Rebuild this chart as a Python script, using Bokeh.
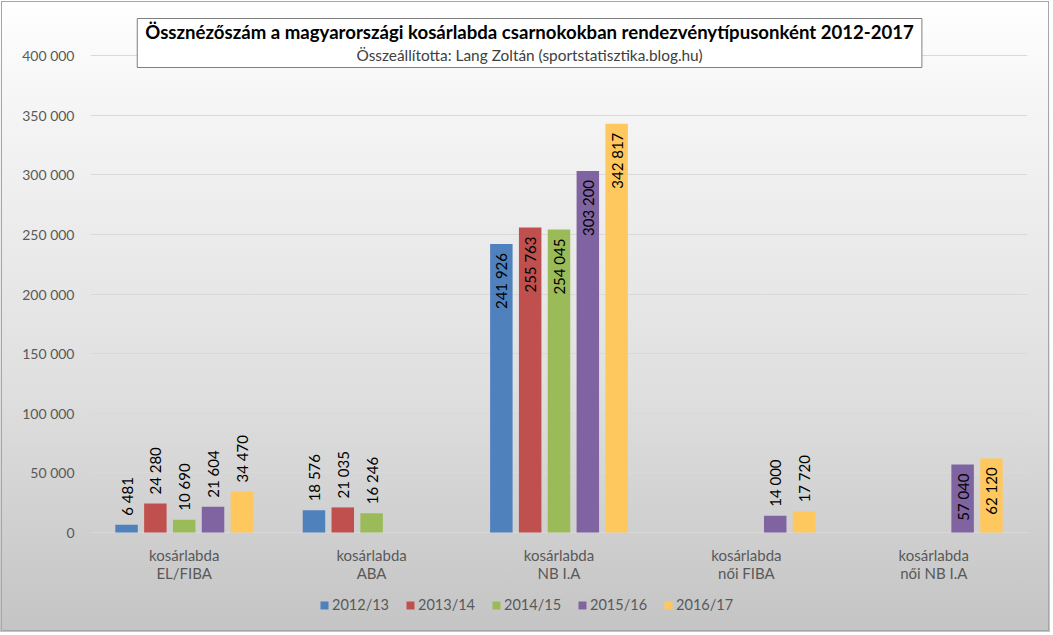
import math
from bokeh.plotting import figure
from bokeh.models import ColumnDataSource, FactorRange, Range1d, FixedTicker, Legend, LegendItem, Label
from bokeh.transform import dodge
from bokeh.core.properties import value
from bokeh.embed import file_html
from bokeh.resources import INLINE

# ---------------- data ----------------
categories = ["kosárlabda\nEL/FIBA", "kosárlabda\nABA", "kosárlabda\nNB I.A",
              "kosárlabda\nnői FIBA", "kosárlabda\nnői NB I.A"]
seasons = ["2012/13", "2013/14", "2014/15", "2015/16", "2016/17"]
values_2012_13 = [6481, 18576, 241926, None, None]
values_2013_14 = [24280, 21035, 255763, None, None]
values_2014_15 = [10690, 16246, 254045, None, None]
values_2015_16 = [21604, None, 303200, 14000, 57040]
values_2016_17 = [34470, None, 342817, 17720, 62120]
inside_label_min = 50000  # labels of bars higher than this sit inside the bar
y_ticks = [0, 50000, 100000, 150000, 200000, 250000, 300000, 350000, 400000]
y_tick_labels = ["0", "50 000", "100 000", "150 000", "200 000", "250 000",
                 "300 000", "350 000", "400 000"]
title_text = "Össznézőszám a magyarországi kosárlabda csarnokokban rendezvénytípusonként 2012-2017"
subtitle_text = "Összeállította: Lang Zoltán (sportstatisztika.blog.hu)"

series_values = [values_2012_13, values_2013_14, values_2014_15, values_2015_16, values_2016_17]
colors = ["#4f81bd", "#c0504d", "#9bbb59", "#8064a2", "#ffc85f"]

# ---------------- layout ----------------
FONT = "Lato"
W, H = 1050, 632
LEFT, RIGHT, TOP, BOTTOM = 90, 23, 10, 2
ZERO_PX = 532      # pixel row of the zero line
TOP_TICK_PX = 55   # pixel row of the highest tick
scale = y_ticks[-1] / (ZERO_PX - TOP_TICK_PX)
y_end = (ZERO_PX - TOP) * scale
y_start = -((H - BOTTOM) - ZERO_PX) * scale


def px_to_y(px):
    return (ZERO_PX - px) * scale


p = figure(x_range=FactorRange(*categories, range_padding=0, factor_padding=0),
           y_range=Range1d(y_start, y_end), width=W, height=H,
           output_backend="svg", toolbar_location=None,
           min_border_left=LEFT, min_border_right=RIGHT,
           min_border_top=TOP, min_border_bottom=BOTTOM)
p.title.visible = False
p.outline_line_color = None
p.background_fill_alpha = 0
p.border_fill_alpha = 0
p.styles = {"background-image": "linear-gradient(to bottom, #ffffff 0%, #f6f6f6 15%, #e0e0e0 60%, #c4c4c4 100%)",
            "outline": "1px solid #a6a6a6", "outline-offset": "-2px"}

pitch = 0.1538
bar_w = 0.12
renderers = []
for i, (season, vals, col) in enumerate(zip(seasons, series_values, colors)):
    off = (i - 2) * pitch
    cats = [c for c, v in zip(categories, vals) if v is not None]
    tops = [v for v in vals if v is not None]
    labels = [f"{v:,}".replace(",", " ") for v in tops]
    src = ColumnDataSource(dict(cat=cats, top=tops, label=labels))
    r = p.vbar(x=dodge("cat", off, range=p.x_range), top="top", width=bar_w,
               source=src, fill_color=col, line_color=None)
    renderers.append(r)
    out_src = ColumnDataSource(dict(
        cat=[c for c, t in zip(cats, tops) if t <= inside_label_min],
        top=[t for t in tops if t <= inside_label_min],
        label=[l for l, t in zip(labels, tops) if t <= inside_label_min]))
    in_src = ColumnDataSource(dict(
        cat=[c for c, t in zip(cats, tops) if t > inside_label_min],
        top=[t for t in tops if t > inside_label_min],
        label=[l for l, t in zip(labels, tops) if t > inside_label_min]))
    p.text(x=dodge("cat", off, range=p.x_range), y="top", text="label", source=out_src,
           angle=math.pi / 2, text_align="left", text_baseline="middle", y_offset=-9,
           text_font=value(FONT), text_font_size="15px", text_color="#000000")
    p.text(x=dodge("cat", off, range=p.x_range), y="top", text="label", source=in_src,
           angle=math.pi / 2, text_align="right", text_baseline="middle", y_offset=9,
           text_font=value(FONT), text_font_size="15px", text_color="#000000")

# category labels under the zero line
cat_src = ColumnDataSource(dict(cat=categories, y=[0] * len(categories)))
p.text(x="cat", y="y", text="cat", source=cat_src, text_align="center",
       text_baseline="top", y_offset=13, text_line_height=1.05,
       text_font=value(FONT), text_font_size="15px", text_color="#595959")

# axes
p.yaxis.ticker = FixedTicker(ticks=y_ticks)
p.yaxis.major_label_overrides = {t: l for t, l in zip(y_ticks, y_tick_labels)}
p.yaxis.axis_line_color = None
p.yaxis.major_tick_line_color = None
p.yaxis.minor_tick_line_color = None
p.yaxis.major_tick_out = 0
p.yaxis.major_label_standoff = 16
p.yaxis.major_label_text_font = FONT
p.yaxis.major_label_text_font_size = "14px"
p.yaxis.major_label_text_color = "#595959"
p.xaxis.visible = False

p.xgrid.grid_line_color = None
p.ygrid.grid_line_color = "#d9d9d9"

# legend
legend = Legend(items=[LegendItem(label=s, renderers=[r]) for s, r in zip(seasons, renderers)],
                orientation="horizontal", location=(229, 17),
                glyph_width=10, glyph_height=10, label_standoff=3, spacing=16,
                padding=0, margin=0, border_line_color=None, background_fill_alpha=0,
                label_text_font=FONT, label_text_font_size="14.5px",
                label_text_color="#595959")
p.add_layout(legend, "center")

# title box
title_x = 2.343
p.add_layout(Label(x=title_x, y=px_to_y(42.5), text=title_text, text_align="center",
                   text_baseline="middle", text_font=FONT, text_font_style="bold",
                   text_font_size="18.6px", text_color="#000000",
                   background_fill_color="#ffffff", border_line_color="#7f7f7f",
                   padding=dict(top=2, right=8, bottom=25, left=8)))
p.add_layout(Label(x=title_x, y=px_to_y(54), text=subtitle_text, text_align="center",
                   text_baseline="middle", text_font=FONT, text_font_size="15.4px",
                   text_color="#404040"))

open("out.html", "w").write(file_html(p, INLINE))
